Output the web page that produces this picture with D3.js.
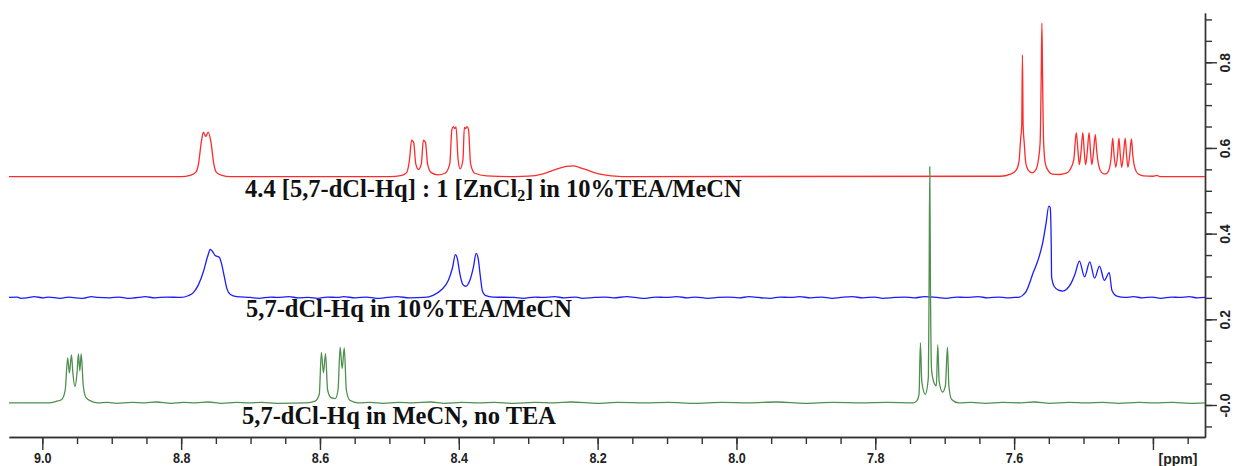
<!DOCTYPE html>
<html>
<head>
<meta charset="utf-8">
<script src="https://cdn.jsdelivr.net/npm/d3@7"></script>
<style>
  body { margin: 0; background: #fff; }
  svg { display: block; }
</style>
</head>
<body>
<div id="chart"></div>
<script>
// spectra: [ppm, intensity above own baseline]
const redPoints = [
    [9.048, 0], [8.80, 0], [8.787, 0.003], [8.779, 0.01], [8.775, 0.03], [8.771, 0.08], [8.768, 0.104],
    [8.7645, 0.094], [8.761, 0.104], [8.757, 0.08], [8.753, 0.03], [8.749, 0.01], [8.741, 0.003], [8.73, 0],
    [8.50, 0], [8.482, 0.003], [8.475, 0.01], [8.471, 0.04], [8.468, 0.085], [8.465, 0.08], [8.462, 0.03],
    [8.458, 0.017], [8.454, 0.03], [8.451, 0.085], [8.448, 0.08], [8.445, 0.03], [8.440, 0.01], [8.43, 0.004],
    [8.42, 0.008], [8.413, 0.03], [8.410, 0.11], [8.408, 0.117], [8.406, 0.112], [8.404, 0.116], [8.401, 0.04],
    [8.398, 0.018], [8.394, 0.04], [8.392, 0.115], [8.390, 0.112], [8.388, 0.117], [8.386, 0.11], [8.383, 0.03],
    [8.377, 0.008], [8.36, 0.002], [8.32, 0], [8.30, 0.001], [8.28, 0.006], [8.26, 0.017], [8.245, 0.024],
    [8.235, 0.025], [8.22, 0.018], [8.20, 0.007], [8.18, 0.002], [8.15, 0],
    [7.62, 0.001], [7.605, 0.006], [7.597, 0.015], [7.593, 0.035], [7.5905, 0.09], [7.589, 0.12], [7.588, 0.284],
    [7.587, 0.12], [7.5855, 0.08], [7.583, 0.03], [7.578, 0.012], [7.574, 0.009], [7.569, 0.015], [7.565, 0.04],
    [7.5625, 0.08], [7.561, 0.23], [7.560, 0.359], [7.559, 0.23], [7.5575, 0.08], [7.555, 0.03], [7.550, 0.012],
    [7.545, 0.006], [7.535, 0.005], [7.525, 0.008],
    [7.520, 0.015], [7.514, 0.04], [7.5105, 0.103], [7.508, 0.06], [7.506, 0.028], [7.5035, 0.06], [7.501, 0.103],
    [7.499, 0.06], [7.497, 0.028], [7.4945, 0.06], [7.492, 0.103], [7.490, 0.06], [7.488, 0.028], [7.4855, 0.06],
    [7.483, 0.098], [7.481, 0.06], [7.478, 0.025], [7.474, 0.01], [7.469, 0.006],
    [7.465, 0.01], [7.4605, 0.04], [7.458, 0.09], [7.456, 0.05], [7.4535, 0.022], [7.451, 0.05], [7.449, 0.09],
    [7.447, 0.05], [7.445, 0.022], [7.4425, 0.05], [7.440, 0.09], [7.438, 0.05], [7.436, 0.022], [7.4335, 0.05],
    [7.431, 0.088], [7.429, 0.05], [7.426, 0.02], [7.421, 0.006], [7.414, 0.002], [7.40, 0.001], [7.394, 0.003],
    [7.39, 0], [7.325, 0]
]

const bluePoints = [
    [9.048, 0], [9.036, 0.001], [9.031, -0.002], [9.019, 0], [9.012, 0.002], [8.998, -0.001], [8.991, 0.001],
    [8.974, -0.002], [8.962, 0.001], [8.957, 0], [8.941, -0.002], [8.929, 0.002], [8.920, 0], [8.903, -0.001],
    [8.889, 0.001], [8.877, -0.002], [8.861, 0], [8.852, 0.002], [8.838, -0.001], [8.821, 0.001],
    [8.80, 0], [8.79, 0.004], [8.782, 0.012], [8.775, 0.03], [8.768, 0.06], [8.762, 0.095],
    [8.758, 0.112], [8.755, 0.108], [8.751, 0.098], [8.748, 0.096], [8.745, 0.094], [8.742, 0.08], [8.738, 0.05],
    [8.734, 0.02], [8.729, 0.007], [8.72, 0.002], [8.70, 0], [8.688, -0.002], [8.671, 0.001], [8.662, 0],
    [8.645, 0.002], [8.631, -0.001], [8.617, 0], [8.603, -0.002], [8.590, 0.001], [8.574, 0], [8.566, 0.002],
    [8.549, -0.001], [8.533, 0.001], [8.518, -0.002], [8.503, 0], [8.489, 0.002], [8.471, -0.001],
    [8.45, 0], [8.437, 0.005], [8.425, 0.018], [8.415, 0.04], [8.409, 0.07], [8.405, 0.1], [8.402, 0.09],
    [8.399, 0.06], [8.394, 0.03], [8.390, 0.026], [8.384, 0.04], [8.379, 0.07], [8.375, 0.103], [8.372, 0.09],
    [8.369, 0.05], [8.366, 0.015], [8.362, 0.005], [8.35, 0.001], [8.32, 0], [8.307, -0.002], [8.291, 0.001],
    [8.280, 0], [8.262, 0.002], [8.248, -0.001], [8.231, 0.001], [8.222, -0.002], [8.204, 0], [8.190, 0.001],
    [8.177, -0.001], [8.158, 0.002], [8.146, 0], [8.131, -0.002], [8.117, 0.001], [8.101, 0], [8.086, 0.002],
    [8.070, -0.001], [8.059, 0.001], [8.041, -0.002], [8.027, 0], [8.012, 0.001], [7.996, -0.001], [7.982, 0.002],
    [7.969, 0], [7.951, -0.002], [7.938, 0.001], [7.922, 0], [7.909, 0.002], [7.893, -0.001], [7.877, 0.001],
    [7.862, -0.002], [7.850, 0], [7.833, 0.002], [7.818, -0.001], [7.801, 0.001], [7.789, -0.002], [7.772, 0],
    [7.758, 0.001], [7.744, -0.001], [7.729, 0.002], [7.711, 0], [7.698, -0.002], [7.683, 0.001], [7.669, 0],
    [7.652, 0.002], [7.638, -0.001], [7.622, 0.001], [7.611, -0.001],
    [7.60, 0], [7.592, 0.001], [7.587, 0.006], [7.582, 0.016], [7.578, 0.032], [7.573, 0.056], [7.566, 0.085],
    [7.559, 0.126], [7.554, 0.173], [7.550, 0.213], [7.548, 0.21], [7.5465, 0.12], [7.546, 0.048], [7.542, 0.025],
    [7.536, 0.017], [7.530, 0.015], [7.524, 0.02], [7.518, 0.033], [7.512, 0.056], [7.506, 0.085], [7.4985, 0.048],
    [7.491, 0.083], [7.484, 0.045], [7.477, 0.073], [7.470, 0.04], [7.463, 0.058], [7.459, 0.016], [7.452, 0.003],
    [7.44, 0], [7.428, 0.002], [7.415, -0.001], [7.401, 0.001], [7.389, -0.002], [7.373, 0.001], [7.361, 0],
    [7.348, 0.002], [7.336, -0.001], [7.325, 0]
]

const greenPoints = [
    [9.048, 0], [8.99, 0], [8.981, 0.003], [8.972, 0.008], [8.967, 0.03], [8.9635, 0.105], [8.961, 0.07],
    [8.958, 0.112], [8.956, 0.07], [8.953, 0.038], [8.950, 0.07], [8.948, 0.114], [8.946, 0.075], [8.944, 0.114],
    [8.941, 0.04], [8.937, 0.012], [8.93, 0.004], [8.92, 0], [8.906, 0.001], [8.893, -0.001], [8.871, 0.001],
    [8.852, 0], [8.836, 0.002], [8.814, -0.001], [8.797, 0.001], [8.779, 0], [8.761, 0.002], [8.742, -0.001],
    [8.720, 0.001], [8.703, 0], [8.684, 0.001], [8.662, -0.001],
    [8.62, 0], [8.607, 0.004], [8.601, 0.02], [8.598, 0.118], [8.595, 0.07], [8.592, 0.115], [8.589, 0.03],
    [8.584, 0.012], [8.578, 0.01], [8.574, 0.03], [8.571, 0.13], [8.568, 0.08], [8.565, 0.128], [8.562, 0.03],
    [8.557, 0.006], [8.545, 0], [8.528, 0.001], [8.509, -0.001], [8.487, 0.001], [8.466, 0], [8.441, 0.002],
    [8.420, -0.001], [8.396, 0.001], [8.371, 0], [8.349, 0.001], [8.320, -0.001], [8.291, 0.001], [8.262, 0],
    [8.238, 0.002], [8.201, -0.001], [8.170, 0.001], [8.132, 0], [8.098, 0.001], [8.061, -0.001], [8.020, 0.001],
    [7.983, 0], [7.941, 0.002], [7.902, -0.001], [7.861, 0.001], [7.820, 0], [7.783, 0.001],
    [7.745, 0], [7.740, 0.005], [7.737, 0.02], [7.735, 0.14], [7.733, 0.05], [7.728, 0.02], [7.7235, 0.06],
    [7.7225, 0.27], [7.7215, 0.551], [7.7205, 0.27], [7.719, 0.08], [7.716, 0.05], [7.712, 0.04], [7.710, 0.135],
    [7.708, 0.05], [7.703, 0.025], [7.699, 0.04], [7.696, 0.13], [7.694, 0.04], [7.69, 0.008], [7.68, 0],
    [7.662, 0.001], [7.641, -0.001], [7.617, 0.001], [7.590, 0], [7.571, 0.002], [7.548, -0.001], [7.521, 0.001],
    [7.497, 0], [7.472, 0.001], [7.449, -0.001], [7.421, 0.001], [7.398, 0], [7.371, 0.001], [7.347, -0.001],
    [7.325, 0]
]

const offsets = [0.533, 0.251, 0.005]
const colors = ['#ff2a2a', '#1c1cff', '#4f8f4f']
const labels = [
    ['4.4 [5,7-dCl-Hq] : 1 [ZnCl', '2', '] in 10%TEA/MeCN'],
    ['5,7-dCl-Hq in 10%TEA/MeCN'],
    ['5,7-dCl-Hq in MeCN, no TEA']
]
const xMajor = [9.0, 8.8, 8.6, 8.4, 8.2, 8.0, 7.8, 7.6, 7.4]
const yMajor = [0, 0.2, 0.4, 0.6, 0.8]

let dimensions = {
    width: 1239,
    height: 466,
    left: 9,
    right: 34,
    top: 13,
    bottom: 29,
}
dimensions.ctrWidth = dimensions.width - dimensions.left - dimensions.right
dimensions.ctrHeight = dimensions.height - dimensions.top - dimensions.bottom

const svg = d3.select('#chart')
    .append('svg')
    .attr('width', dimensions.width)
    .attr('height', dimensions.height)

const ctr = svg.append('g')
    .attr('transform', `translate(${dimensions.left}, ${dimensions.top})`)

// scales (ppm runs right to left)
const x = d3.scaleLinear()
    .domain([9.048, 7.325])
    .range([0, dimensions.ctrWidth])
const y = d3.scaleLinear()
    .domain([-0.0747, 0.915])
    .range([dimensions.ctrHeight, 0])

// x axis: minor ticks then major ticks with labels
const xMinor = d3.range(9.0, 7.33, -0.05)
ctr.append('g')
    .attr('transform', `translate(0, ${dimensions.ctrHeight})`)
    .call(d3.axisBottom(x).tickValues(xMinor).tickSize(7).tickFormat('').tickSizeOuter(0))
const xAxis = ctr.append('g')
    .attr('transform', `translate(0, ${dimensions.ctrHeight})`)
    .call(d3.axisBottom(x).tickValues(xMajor).tickSize(13).tickSizeOuter(0)
        .tickFormat(d => d < 7.5 ? '' : d3.format('.1f')(d)))
xAxis.selectAll('text')
    .attr('y', 16)
    .attr('transform', 'scale(0.9,1)')
ctr.append('text')
    .attr('x', 1178 - dimensions.left)
    .attr('y', dimensions.ctrHeight + 27)
    .attr('text-anchor', 'middle')
    .style('font', 'bold 14px "Liberation Sans", Arial, sans-serif')
    .attr('fill', '#222')
    .text('[ppm]')

// y axis on the right
const yMinor = d3.range(-0.05, 0.91, 0.05)
ctr.append('g')
    .attr('transform', `translate(${dimensions.ctrWidth}, 0)`)
    .call(d3.axisRight(y).tickValues(yMinor).tickSize(7).tickFormat('').tickSizeOuter(0))
const yAxis = ctr.append('g')
    .attr('transform', `translate(${dimensions.ctrWidth}, 0)`)
    .call(d3.axisRight(y).tickValues(yMajor).tickSize(12).tickSizeOuter(0)
        .tickFormat(d => d === 0 ? '-0.0' : d3.format('.1f')(d)))
yAxis.selectAll('text')
    .attr('x', 0)
    .attr('dy', 0)
    .attr('text-anchor', 'middle')
    .attr('transform', 'translate(25,0) rotate(-90)')

svg.selectAll('.domain, .tick line').attr('stroke', '#333').attr('stroke-width', 1.4)
svg.selectAll('.tick text')
    .attr('fill', '#222')
    .style('font', 'bold 14px "Liberation Sans", Arial, sans-serif')

// spectra
const spectra = [redPoints, bluePoints, greenPoints]
spectra.forEach((pts, i) => {
    const line = d3.line()
        .x(d => x(d[0]))
        .y(d => y(d[1] + offsets[i]))
        .curve(d3.curveMonotoneX)
    ctr.append('path')
        .datum(pts.slice().sort((a, b) => b[0] - a[0]))
        .attr('d', line)
        .attr('fill', 'none')
        .attr('stroke', colors[i])
        .attr('stroke-width', 1.3)
})

// sample labels
const labelPos = [[245, 197], [246, 317], [242, 424]]
labels.forEach((parts, i) => {
    const t = svg.append('text')
        .attr('x', labelPos[i][0])
        .attr('y', labelPos[i][1])
        .attr('fill', '#111')
        .style('font', 'bold 24.5px "Liberation Serif", "Times New Roman", serif')
    t.append('tspan').text(parts[0])
    if (parts.length > 1) {
        t.append('tspan').attr('dy', 4).style('font-size', '16px').text(parts[1])
        t.append('tspan').attr('dy', -4).text(parts[2])
    }
})
</script>
</body>
</html>
